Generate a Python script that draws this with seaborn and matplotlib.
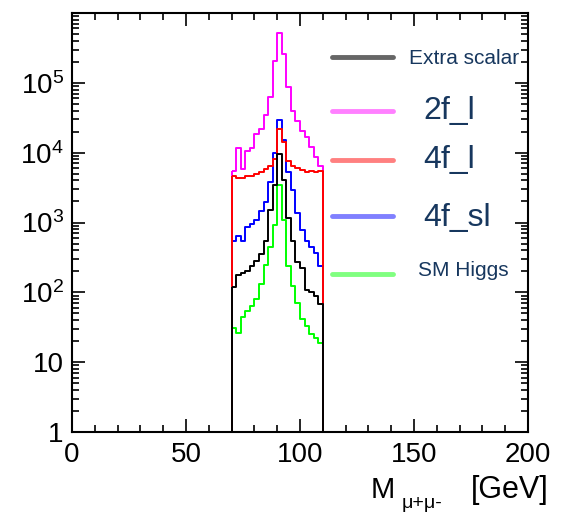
import numpy as np
import pandas as pd
import matplotlib
matplotlib.use("Agg")
import matplotlib.pyplot as plt
from matplotlib.lines import Line2D
from matplotlib.ticker import LogLocator, MultipleLocator, FuncFormatter, NullFormatter
import seaborn as sns

# ---- data (bin contents) ----
bin_lo, bin_hi, bin_w = 70, 110, 2  # 2 GeV bins, 70..110
bin_centers = np.arange(bin_lo + bin_w / 2, bin_hi, bin_w)

extra_scalar = [118, 175, 190, 205, 240, 285, 350, 550, 1500, 3500,
                9700, 4000, 1150, 550, 270, 220, 107, 100, 88, 67]
f2_l = [5500, 11500, 5800, 10700, 11500, 18500, 22000, 35000, 63000, 205000,
        520000, 260000, 86000, 39000, 28000, 20500, 16500, 12200, 8600, 6500]
f4_l = [4600, 4400, 4400, 4600, 4700, 5000, 5200, 5900, 6500, 8200,
        22000, 14000, 7700, 6500, 6100, 5600, 5200, 5500, 5300, 5500]
f4_sl = [550, 650, 550, 860, 960, 1070, 1480, 1950, 3800, 10000,
         29000, 15000, 5200, 2900, 1350, 770, 550, 440, 360, 235]
sm_higgs = [31, 26, 44, 54, 63, 81, 133, 245, 445, 910,
            3500, 1100, 235, 125, 70, 42, 33, 25, 22, 19]

legend_labels = ["Extra scalar", "2f_l", "4f_l", "4f_sl", "SM Higgs"]
hist_colors = {"Extra scalar": "#000000", "2f_l": "#ff00ff", "4f_l": "#ff0000",
               "4f_sl": "#0000ff", "SM Higgs": "#00ff00"}
legend_colors = {"Extra scalar": "#666666", "2f_l": "#ff80ff", "4f_l": "#ff8080",
                 "4f_sl": "#8080ff", "SM Higgs": "#80ff80"}
series = {"Extra scalar": extra_scalar, "2f_l": f2_l, "4f_l": f4_l,
          "4f_sl": f4_sl, "SM Higgs": sm_higgs}
draw_order = ["2f_l", "4f_sl", "SM Higgs", "4f_l", "Extra scalar"]

x_ticks = [0, 50, 100, 150, 200]
y_tick_values = [1, 10, 100, 1000, 10000, 100000]

# ---- style ----
sns.set_theme(style="ticks")
plt.rcParams["font.family"] = ["Liberation Sans", "DejaVu Sans"]
plt.rcParams["mathtext.fontset"] = "custom"
plt.rcParams["mathtext.rm"] = "Liberation Sans"
plt.rcParams["mathtext.it"] = "Liberation Sans"
plt.rcParams["mathtext.bf"] = "Liberation Sans:bold"

W, H = 563, 512
fig = plt.figure(figsize=(W / 100, H / 100), dpi=100)
fig.patch.set_facecolor("white")
ax = fig.add_axes([72 / W, (H - 432) / H, 456 / W, 419 / H])
ax.set_facecolor("white")

for name in draw_order:
    df = pd.DataFrame({"m": bin_centers, "w": np.asarray(series[name], float)})
    sns.histplot(data=df, x="m", weights="w", binwidth=bin_w,
                 binrange=(bin_lo, bin_hi),
                 element="step", fill=True, color=hist_colors[name],
                 facecolor="none", edgecolor=hist_colors[name],
                 linewidth=1.4, ax=ax)

ax.set_yscale("log")
ax.set_xlim(0, 200)
ax.set_ylim(1, 1e6)
ax.set_xlabel("")
ax.set_ylabel("")
ax.xaxis.label.set_visible(False)
ax.yaxis.label.set_visible(False)

ax.xaxis.set_minor_locator(MultipleLocator(10))
ax.set_xticks(x_ticks)
ax.set_yticks(y_tick_values)
ax.yaxis.set_minor_locator(LogLocator(base=10, subs=np.arange(2, 10), numticks=100))
ax.yaxis.set_minor_formatter(NullFormatter())
ax.xaxis.set_minor_formatter(NullFormatter())


def ylab(v, pos):
    if v <= 0:
        return ""
    e = int(round(np.log10(v)))
    if e == 0:
        return "1"
    if e == 1:
        return "10"
    if e < 0 or e >= 6:
        return ""
    return r"$\mathregular{10^{%d}}$" % e


ax.yaxis.set_major_formatter(FuncFormatter(ylab))
ax.set_ylim(1, 1e6)

for s in ax.spines.values():
    s.set_linewidth(1.5)
    s.set_color("black")

ax.tick_params(axis="both", which="both", direction="in", top=True, right=True,
               colors="black", width=1.2)
ax.tick_params(axis="both", which="major", length=9.5, labelsize=20)
ax.tick_params(axis="both", which="minor", length=5)
ax.tick_params(axis="x", which="major", pad=7)
ax.tick_params(axis="y", which="major", pad=6)

# ---- x label ----
lab_col = "black"
fig.text(371 / W, 1 - 498 / H, "M", fontsize=21, ha="left", va="baseline", color=lab_col)
fig.text(402 / W, 1 - 508 / H, "\u03bc+\u03bc-", fontsize=14, ha="left", va="baseline",
         color=lab_col)
fig.text(549 / W, 1 - 498 / H, "[GeV]", fontsize=22, ha="right", va="baseline",
         color=lab_col)

# ---- legend (manual, ROOT-style) ----
text_col = "#17375e"
leg_line_y = [57, 111, 160, 216, 274]
leg_text_x = [409, 423, 423, 423, 418]
leg_text_base = [64, 119, 168, 226, 276]
leg_sizes = [15, 23, 23, 23, 15]
for lab, ly, tx, tb, fs in zip(legend_labels, leg_line_y, leg_text_x, leg_text_base, leg_sizes):
    fig.add_artist(Line2D([332 / W, 393 / W], [1 - ly / H, 1 - ly / H],
                          color=legend_colors[lab], linewidth=3.5,
                          transform=fig.transFigure))
    fig.text(tx / W, 1 - tb / H, lab, fontsize=fs, ha="left", va="baseline",
             color=text_col)

fig.savefig("out.png", dpi=100, facecolor="white")
